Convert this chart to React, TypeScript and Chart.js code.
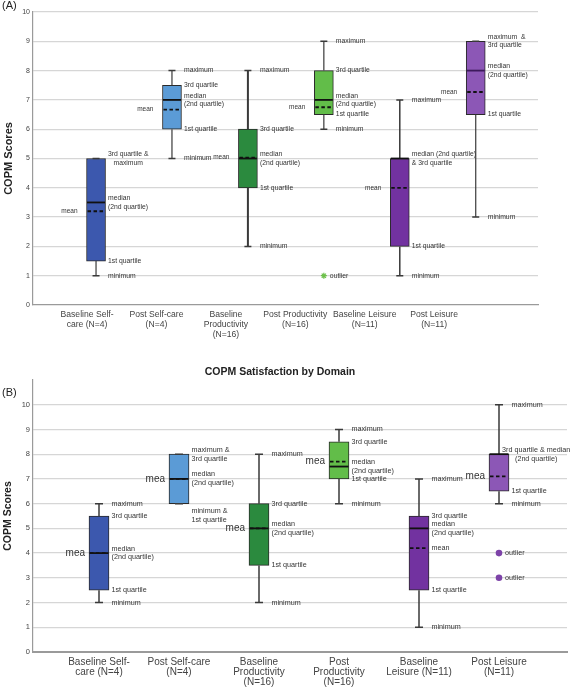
import React, { useEffect, useRef } from "react";
import { Chart, registerables } from "chart.js";

Chart.register(...registerables);

// ---------- Panel A (performance) ----------
const CATEGORIES_A = [
  ["Baseline Self-", "care (N=4)"],
  ["Post Self-care", "(N=4)"],
  ["Baseline", "Productivity", "(N=16)"],
  ["Post Productivity", "(N=16)"],
  ["Baseline Leisure", "(N=11)"],
  ["Post Leisure", "(N=11)"],
];
const MIN_A = [1, 5, 2, 6, 1, 3];
const Q1_A = [1.5, 6, 4, 6.5, 2, 6.5];
const MEDIAN_A = [3.5, 7, 5, 7, 5, 8];
const Q3_A = [5, 7.5, 6, 8, 5, 9];
const MAX_A = [5, 8, 8, 9, 7, 9];
const MEAN_A = [3.2, 6.67, 5.03, 6.75, 4.0, 7.27];
const OUTLIERS_A = [{ x: 3, y: 1 }];

// ---------- Panel B (satisfaction) ----------
const TITLE_B = "COPM Satisfaction by Domain";
const CATEGORIES_B = [
  ["Baseline Self-", "care (N=4)"],
  ["Post Self-care", "(N=4)"],
  ["Baseline", "Productivity", "(N=16)"],
  ["Post", "Productivity", "(N=16)"],
  ["Baseline", "Leisure (N=11)"],
  ["Post Leisure", "(N=11)"],
];
const MIN_B = [2, 6, 2, 6, 1, 6];
const Q1_B = [2.5, 6, 3.5, 7, 2.5, 6.5];
const MEDIAN_B = [4, 7, 5, 7.5, 5, 8];
const Q3_B = [5.5, 8, 6, 8.5, 5.5, 8];
const MAX_B = [6, 8, 8, 9, 7, 10];
const MEAN_B = [4, 7, 5, 7.7, 4.2, 7.1];
const OUTLIERS_B = [
  { x: 5, y: 4 },
  { x: 5, y: 3 },
];

const COLORS = ["#3c58ae", "#5b9bd6", "#2b8a3e", "#62bd49", "#7232a0", "#8c57b6"];
const Y_TICKS_A = [0, 1, 2, 3, 4, 5, 6, 7, 8, 9, 10];
const Y_TICKS_B = [0, 1, 2, 3, 4, 5, 6, 7, 8, 9, 10];

type Key = "min" | "q1" | "median" | "q3" | "max" | "mean";
type Note = {
  lines: string[];
  key: Key;
  side?: "left";
  pos?: "below";
  align?: "center";
  big?: boolean;
  inset?: boolean;
};

const NOTES_A: Note[][] = [
  [
    { lines: ["3rd quartile &", "maximum"], key: "q3", align: "center" },
    { lines: ["median", "(2nd quartile)"], key: "median" },
    { lines: ["1st quartile"], key: "q1" },
    { lines: ["minimum"], key: "min" },
    { lines: ["mean"], key: "mean", side: "left" },
  ],
  [
    { lines: ["maximum"], key: "max" },
    { lines: ["3rd quartile"], key: "q3" },
    { lines: ["median", "(2nd quartile)"], key: "median" },
    { lines: ["1st quartile"], key: "q1" },
    { lines: ["minimum"], key: "min" },
    { lines: ["mean"], key: "mean", side: "left" },
  ],
  [
    { lines: ["maximum"], key: "max" },
    { lines: ["3rd quartile"], key: "q3" },
    { lines: ["median", "(2nd quartile)"], key: "median" },
    { lines: ["1st quartile"], key: "q1" },
    { lines: ["minimum"], key: "min" },
    { lines: ["mean"], key: "mean", side: "left" },
  ],
  [
    { lines: ["maximum"], key: "max" },
    { lines: ["3rd quartile"], key: "q3" },
    { lines: ["median", "(2nd quartile)"], key: "median" },
    { lines: ["1st quartile"], key: "q1" },
    { lines: ["minimum"], key: "min" },
    { lines: ["mean"], key: "mean", side: "left" },
  ],
  [
    { lines: ["maximum"], key: "max" },
    { lines: ["median (2nd quartile)", "& 3rd quartile"], key: "median" },
    { lines: ["1st quartile"], key: "q1" },
    { lines: ["minimum"], key: "min" },
    { lines: ["mean"], key: "mean", side: "left" },
  ],
  [
    { lines: ["maximum  &", "3rd quartile"], key: "max" },
    { lines: ["median", "(2nd quartile)"], key: "median" },
    { lines: ["1st quartile"], key: "q1" },
    { lines: ["minimum"], key: "min" },
    { lines: ["mean"], key: "mean", side: "left" },
  ],
];

const NOTES_B: Note[][] = [
  [
    { lines: ["maximum"], key: "max" },
    { lines: ["3rd quartile"], key: "q3" },
    { lines: ["median", "(2nd quartile)"], key: "median" },
    { lines: ["1st quartile"], key: "q1" },
    { lines: ["minimum"], key: "min" },
    { lines: ["mea"], key: "mean", side: "left", big: true },
  ],
  [
    { lines: ["maximum &", "3rd quartile"], key: "max" },
    { lines: ["median", "(2nd quartile)"], key: "median" },
    { lines: ["minimum &", "1st quartile"], key: "min", pos: "below" },
    { lines: ["mea"], key: "mean", side: "left", big: true },
  ],
  [
    { lines: ["maximum"], key: "max" },
    { lines: ["3rd quartile"], key: "q3" },
    { lines: ["median", "(2nd quartile)"], key: "median" },
    { lines: ["1st quartile"], key: "q1" },
    { lines: ["minimum"], key: "min" },
    { lines: ["mea"], key: "mean", side: "left", big: true },
  ],
  [
    { lines: ["maximum"], key: "max" },
    { lines: ["3rd quartile"], key: "q3" },
    { lines: ["median", "(2nd quartile)"], key: "median" },
    { lines: ["1st quartile"], key: "q1" },
    { lines: ["minimum"], key: "min" },
    { lines: ["mea"], key: "mean", side: "left", big: true },
  ],
  [
    { lines: ["maximum"], key: "max" },
    { lines: ["3rd quartile"], key: "q3" },
    { lines: ["median", "(2nd quartile)"], key: "median" },
    { lines: ["mean"], key: "mean" },
    { lines: ["1st quartile"], key: "q1" },
    { lines: ["minimum"], key: "min" },
  ],
  [
    { lines: ["maximum"], key: "max" },
    { lines: ["3rd quartile & median", "(2nd quartile)"], key: "q3", align: "center", inset: true },
    { lines: ["1st quartile"], key: "q1" },
    { lines: ["minimum"], key: "min" },
    { lines: ["mea"], key: "mean", side: "left", big: true },
  ],
];

const FONT = "'Liberation Sans', Arial, sans-serif";

type PanelCfg = {
  width: number;
  height: number;
  cats: string[][];
  stats: Record<Key, number[]>;
  outliers: { x: number; y: number }[];
  notes: Note[][];
  panelLabel: string;
  panelLabelY: number;
  title?: string;
  titleY?: number;
  xMin: number;
  xMax: number;
  labelStart: number;
  labelStep: number;
  yMax: number;
  yTicks: number[];
  padTop: number;
  padRight: number;
  yWidth: number;
  xHeight: number;
  boxW: number;
  capW: number;
  noteSize: number;
  meanSize: number;
  bigMeanSize: number;
  meanGap: number;
  xFont: number;
  xLine: number;
  yFont: number;
  yTitleFont: number;
  outlierStyle: "star" | "circle";
  outlierColor: string;
  whiskerWidths: number[];
  axisWidth: number;
};

function makePlugin(cfg: PanelCfg) {
  return {
    id: "boxExtras",
    afterDatasetsDraw(chart: any) {
      const ctx = chart.ctx as CanvasRenderingContext2D;
      const xs = chart.scales.x;
      const ys = chart.scales.y;
      const hw = cfg.boxW / 2;
      ctx.save();
      cfg.cats.forEach((_, i) => {
        const xc = xs.getPixelForValue(i);
        const yMin = ys.getPixelForValue(cfg.stats.min[i]);
        const yQ1 = ys.getPixelForValue(cfg.stats.q1[i]);
        const yQ3 = ys.getPixelForValue(cfg.stats.q3[i]);
        const yMax = ys.getPixelForValue(cfg.stats.max[i]);
        const yMed = ys.getPixelForValue(cfg.stats.median[i]);
        const yMean = ys.getPixelForValue(cfg.stats.mean[i]);
        // whiskers
        ctx.strokeStyle = "#3a3a3a";
        ctx.lineWidth = cfg.whiskerWidths[i];
        ctx.setLineDash([]);
        ctx.beginPath();
        if (yMin > yQ1 + 0.5) {
          ctx.moveTo(xc, yMin);
          ctx.lineTo(xc, yQ1);
        }
        if (yMax < yQ3 - 0.5) {
          ctx.moveTo(xc, yQ3);
          ctx.lineTo(xc, yMax);
        }
        ctx.stroke();
        ctx.lineWidth = 1.5;
        ctx.beginPath();
        ctx.moveTo(xc - cfg.capW / 2, yMin);
        ctx.lineTo(xc + cfg.capW / 2, yMin);
        ctx.moveTo(xc - cfg.capW / 2, yMax);
        ctx.lineTo(xc + cfg.capW / 2, yMax);
        ctx.stroke();
        // mean (dashed)
        ctx.strokeStyle = "#111";
        ctx.lineWidth = 1.8;
        ctx.setLineDash([3.5, 2.5]);
        ctx.beginPath();
        ctx.moveTo(xc - hw + 1, yMean);
        ctx.lineTo(xc + hw - 1, yMean);
        ctx.stroke();
        // median
        ctx.setLineDash([]);
        ctx.lineWidth = 1.8;
        ctx.strokeStyle = i === 5 && cfg.panelLabel === "(A)" ? "#3d1a5c" : "#111";
        ctx.beginPath();
        ctx.moveTo(xc - hw + 0.5, yMed);
        ctx.lineTo(xc + hw - 0.5, yMed);
        ctx.stroke();
        // notes
        ctx.fillStyle = "#333";
        ctx.textBaseline = "middle";
        cfg.notes[i].forEach((n) => {
          const isMean = n.key === "mean";
          const size = n.big ? cfg.bigMeanSize : isMean && n.side === "left" ? cfg.meanSize : cfg.noteSize;
          ctx.font = `${size}px ${FONT}`;
          const lh = size + 1.6;
          const v = ys.getPixelForValue(cfg.stats[n.key][i]);
          let y0 = v - ((n.lines.length - 1) * lh) / 2;
          if (n.pos === "below") y0 = v + 3 + lh / 2;
          if (n.side === "left") {
            ctx.textAlign = "right";
            const x = xc - hw - (n.big ? 4 : cfg.meanGap);
            n.lines.forEach((t, k) => ctx.fillText(t, x, y0 + k * lh));
          } else {
            ctx.textAlign = "left";
            const x = n.inset ? xc + 3 : xc + hw + 2.5;
            const maxW = Math.max(...n.lines.map((t) => ctx.measureText(t).width));
            n.lines.forEach((t, k) => {
              const w = ctx.measureText(t).width;
              const dx = n.align === "center" ? (maxW - w) / 2 : 0;
              ctx.fillText(t, x + dx, y0 + k * lh);
            });
          }
        });
      });
      // outlier labels
      ctx.font = `${cfg.noteSize}px ${FONT}`;
      ctx.textAlign = "left";
      ctx.textBaseline = "middle";
      ctx.fillStyle = "#333";
      cfg.outliers.forEach((o) => {
        ctx.fillText("outlier", xs.getPixelForValue(o.x) + 6, ys.getPixelForValue(o.y));
      });
      // panel label and title
      ctx.font = `11px ${FONT}`;
      ctx.fillStyle = "#222";
      ctx.textAlign = "left";
      ctx.fillText(cfg.panelLabel, 2, cfg.panelLabelY);
      if (cfg.title) {
        ctx.font = `bold 10.5px ${FONT}`;
        ctx.textAlign = "center";
        ctx.fillText(cfg.title, 280, cfg.titleY as number);
      }
      ctx.restore();
    },
  };
}

function Panel({ cfg }: { cfg: PanelCfg }) {
  const ref = useRef<HTMLCanvasElement | null>(null);
  useEffect(() => {
    if (!ref.current) return;
    const chart = new Chart(ref.current, {
      type: "bar",
      data: {
        datasets: [
          {
            type: "bar",
            data: cfg.stats.q1.map((q, i) => ({ x: i, y: [q, cfg.stats.q3[i]] })) as any,
            backgroundColor: COLORS,
            borderColor: "#2a2a2a",
            borderWidth: 1,
            borderSkipped: false,
            barThickness: cfg.boxW,
          } as any,
          {
            type: "scatter",
            data: cfg.outliers as any,
            pointStyle: cfg.outlierStyle,
            radius: cfg.outlierStyle === "star" ? 3 : 3.3,
            backgroundColor: cfg.outlierColor,
            borderColor: cfg.outlierColor,
            borderWidth: cfg.outlierStyle === "star" ? 1.2 : 0,
          } as any,
        ],
      },
      options: {
        animation: false,
        responsive: false,
        maintainAspectRatio: false,
        devicePixelRatio: 1,
        events: [],
        layout: { padding: { left: 0, top: cfg.padTop, right: cfg.padRight, bottom: 0 } },
        plugins: { legend: { display: false }, tooltip: { enabled: false }, title: { display: false } },
        scales: {
          x: {
            type: "linear",
            min: cfg.xMin,
            max: cfg.xMax,
            offset: false,
            grid: { display: false, drawTicks: false, offset: false },
            border: { display: true, color: "#9a9a9a", width: cfg.axisWidth },
            afterBuildTicks: (axis: any) => {
              axis.ticks = cfg.cats.map((_, i) => ({ value: cfg.labelStart + i * cfg.labelStep }));
            },
            afterFit: (axis: any) => {
              axis.height = cfg.xHeight;
            },
            ticks: {
              autoSkip: false,
              maxRotation: 0,
              minRotation: 0,
              padding: 5,
              color: "#444",
              font: { family: FONT, size: cfg.xFont, lineHeight: cfg.xLine },
              callback: (_v: any, idx: number) => cfg.cats[idx],
            },
          },
          y: {
            type: "linear",
            min: 0,
            max: cfg.yMax,
            afterBuildTicks: (axis: any) => {
              const t = cfg.yTicks.map((v) => ({ value: v }));
              if (cfg.yMax > cfg.yTicks[cfg.yTicks.length - 1]) t.push({ value: cfg.yMax });
              axis.ticks = t;
            },
            afterFit: (axis: any) => {
              axis.width = cfg.yWidth;
            },
            grid: {
              drawTicks: false,
              color: (c: any) =>
                c.tick && (c.tick.value === 0 || c.tick.value > cfg.yTicks[cfg.yTicks.length - 1])
                  ? "rgba(0,0,0,0)"
                  : "#d6d6d6",
              lineWidth: 1.3,
            },
            border: { display: true, color: "#9a9a9a", width: 1.2 },
            ticks: {
              padding: 3,
              color: "#444",
              font: { family: FONT, size: cfg.yFont },
              callback: (v: any) => (cfg.yTicks.includes(Number(v)) ? String(v) : ""),
            },
            title: {
              display: true,
              text: "COPM Scores",
              color: "#222",
              font: { family: FONT, size: cfg.yTitleFont, weight: "bold" },
              padding: { top: 2, bottom: 0 },
            },
          },
        },
      } as any,
      plugins: [makePlugin(cfg)],
    });
    return () => chart.destroy();
  }, [cfg]);
  return <canvas ref={ref} width={cfg.width} height={cfg.height} style={{ display: "block" }} />;
}

const CFG_A: PanelCfg = {
  width: 572,
  height: 340,
  cats: CATEGORIES_A,
  stats: { min: MIN_A, q1: Q1_A, median: MEDIAN_A, q3: Q3_A, max: MAX_A, mean: MEAN_A },
  outliers: OUTLIERS_A,
  notes: NOTES_A,
  panelLabel: "(A)",
  panelLabelY: 6,
  xMin: -0.83,
  xMax: 5.82,
  labelStart: -0.118,
  labelStep: 0.914,
  yMax: 10,
  yTicks: Y_TICKS_A,
  padTop: 12,
  padRight: 34,
  yWidth: 33,
  xHeight: 35,
  boxW: 19,
  capW: 7,
  noteSize: 6.8,
  meanSize: 6.5,
  bigMeanSize: 10,
  meanGap: 9,
  xFont: 8.6,
  xLine: 1.15,
  yFont: 7,
  yTitleFont: 11,
  outlierStyle: "star",
  outlierColor: "#6cc04a",
  whiskerWidths: [1.2, 1.2, 2, 1.2, 1.5, 1.2],
  axisWidth: 1.2,
};

const CFG_B: PanelCfg = {
  width: 572,
  height: 348,
  cats: CATEGORIES_B,
  stats: { min: MIN_B, q1: Q1_B, median: MEDIAN_B, q3: Q3_B, max: MAX_B, mean: MEAN_B },
  outliers: OUTLIERS_B,
  notes: NOTES_B,
  panelLabel: "(B)",
  panelLabelY: 53,
  title: TITLE_B,
  titleY: 32,
  xMin: -0.825,
  xMax: 5.85,
  labelStart: 0,
  labelStep: 1,
  yMax: 11,
  yTicks: Y_TICKS_B,
  padTop: 40,
  padRight: 5,
  yWidth: 33,
  xHeight: 36,
  boxW: 20,
  capW: 8,
  noteSize: 7.2,
  meanSize: 7,
  bigMeanSize: 10,
  meanGap: 4,
  xFont: 10,
  xLine: 1.0,
  yFont: 7.5,
  yTitleFont: 10.5,
  outlierStyle: "circle",
  outlierColor: "#7d43a8",
  whiskerWidths: [1.5, 1.5, 1.5, 1.5, 1.5, 1.5],
  axisWidth: 2,
};

export default function App() {
  return (
    <div style={{ position: "absolute", left: 0, top: 0, width: 572, height: 688, background: "#fff" }}>
      <Panel cfg={CFG_A} />
      <Panel cfg={CFG_B} />
    </div>
  );
}
